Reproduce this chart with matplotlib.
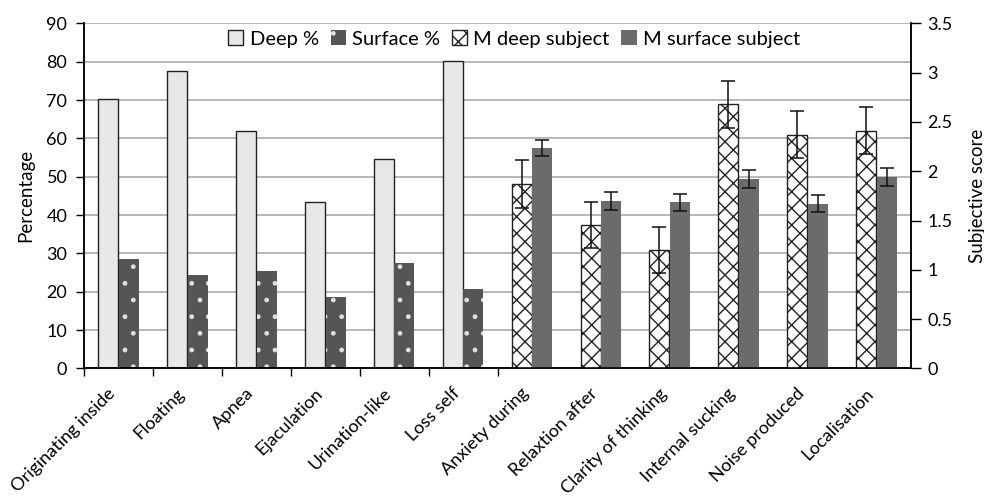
import numpy as np
import matplotlib
matplotlib.use("Agg")
import matplotlib.pyplot as plt

plt.rcParams['font.family'] = ['Lato', 'DejaVu Sans']
plt.rcParams['hatch.linewidth'] = 1.0

categories = ['Originating inside', 'Floating', 'Apnea', 'Ejaculation', 'Urination-like',
              'Loss self', 'Anxiety during', 'Relaxtion after', 'Clarity of thinking',
              'Internal sucking', 'Noise produced', 'Localisation']

# percentages (left axis), first six categories
deep_pct = [70.3, 77.6, 62.0, 43.3, 54.6, 80.2]
surface_pct = [28.5, 24.3, 25.4, 18.6, 27.5, 20.7]

# mean subjective scores (right axis), last six categories
m_deep = [1.87, 1.455, 1.20, 2.68, 2.37, 2.41]
m_deep_err = [0.24, 0.235, 0.235, 0.24, 0.24, 0.24]
m_surface = [2.235, 1.695, 1.685, 1.925, 1.67, 1.94]
m_surface_err = [0.08, 0.09, 0.088, 0.09, 0.088, 0.09]

fig = plt.figure(figsize=(9.84, 4.97), dpi=100)
ax = fig.add_axes([0.0854, 0.2586, 0.8404, 0.6945])
ax2 = ax.twinx()

w = 0.29
x = np.arange(len(categories))
x_left = x[:6]
x_right = x[6:]

ax.bar(x_left - w / 2 - 0.005, deep_pct, w, color='#e8e8e8', edgecolor='#222222',
       linewidth=1, label='Deep %', zorder=2)
ax.bar(x_left + w / 2 + 0.005, surface_pct, w, color='#555555', edgecolor='#e0e0e0',
       hatch='.', linewidth=0, label='Surface %', zorder=2)

ax2.bar(x_right - w / 2 - 0.005, m_deep, w, color='white', edgecolor='#222222',
        hatch='xx', linewidth=1, label='M deep subject', zorder=2)
ax2.bar(x_right + w / 2 + 0.005, m_surface, w, color='#6b6b6b', linewidth=0,
        label='M surface subject', zorder=2)
ax2.errorbar(x_right - w / 2 - 0.005, m_deep, yerr=m_deep_err, fmt='none',
             ecolor='#111111', elinewidth=1.1, capsize=5, capthick=1.1, zorder=3)
ax2.errorbar(x_right + w / 2 + 0.005, m_surface, yerr=m_surface_err, fmt='none',
             ecolor='#111111', elinewidth=1.1, capsize=5, capthick=1.1, zorder=3)

ax.set_xlim(-0.5, len(categories) - 0.5)
ax.set_ylim(0, 90)
ax.set_yticks(np.arange(0, 91, 10))
ax2.set_ylim(0, 3.5)
ax2.set_yticks(np.arange(0, 3.51, 0.5))
ax2.set_yticklabels(['0', '0.5', '1', '1.5', '2', '2.5', '3', '3.5'])

ax.set_axisbelow(True)
ax.yaxis.grid(True, color='#ababab', linewidth=1.2)

ax.set_xticks(x)
ax.set_xticklabels(categories, rotation=45, ha='right', va='top', fontsize=13)
ax.set_xticks(np.arange(-0.5, 6.0, 1.0), minor=True)
ax.tick_params(axis='x', which='major', length=0, pad=12)
ax.tick_params(axis='x', which='minor', length=6, width=1, direction='out')
ax.tick_params(axis='y', length=6, width=1, labelsize=13, pad=6)
ax2.tick_params(axis='y', length=7, width=1, labelsize=13, pad=5)

for a in (ax, ax2):
    a.spines['top'].set_visible(False)
    for s in ('left', 'right', 'bottom'):
        a.spines[s].set_color('black')
        a.spines[s].set_linewidth(1.1)

ax.set_ylabel('Percentage', fontsize=13.5, ha='center', va='center')
ax.yaxis.set_label_coords(-0.071, 0.5)
ax2.set_ylabel('Subjective score', fontsize=13.5, ha='center', va='center')
ax2.yaxis.set_label_coords(1.08, 0.5)

h1, l1 = ax.get_legend_handles_labels()
h2, l2 = ax2.get_legend_handles_labels()
ax2.legend(h1 + h2, l1 + l2, ncol=4, frameon=False, loc='center',
           bbox_to_anchor=(0.52, 0.955), fontsize=14.5, handlelength=0.75,
           handleheight=0.75, handletextpad=0.3, columnspacing=0.6)

fig.savefig('out.png', dpi=100)
